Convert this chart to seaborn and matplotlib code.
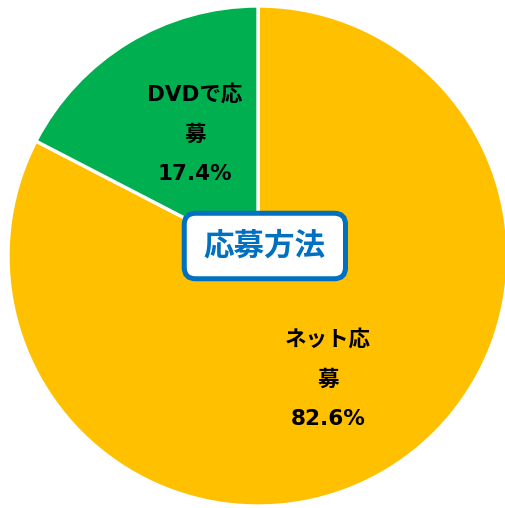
import matplotlib
matplotlib.use("Agg")
import matplotlib.pyplot as plt
from matplotlib.patches import FancyBboxPatch
import seaborn as sns

categories = ["ネット応募", "DVDで応募"]
label_lines = ["ネット応\n募", "DVDで応\n募"]
values = [82.6, 17.4]
colors = ["#FFC000", "#00B050"]
title = "応募方法"

sns.set_theme(style="white")
plt.rcParams['font.family'] = ['DejaVu Sans', 'Noto Sans CJK JP']

fig = plt.figure(figsize=(5.06, 5.08), dpi=100)
ax = fig.add_axes([0, 0, 1, 1])
ax.pie(values, colors=colors, startangle=90, counterclock=False,
       radius=1.0, center=(0, 0),
       wedgeprops=dict(edgecolor="white", linewidth=2.4))
ax.set_xlim(-1.032, 0.992)
ax.set_ylim(-1.008, 1.024)
ax.set_aspect("auto")
ax.axis("off")

label_pos = [(0.28, -0.49), (-0.252, 0.49)]
for (x, y), txt, v in zip(label_pos, label_lines, values):
    ax.text(x, y, f"{txt}\n{v:.1f}%", ha="center", va="center",
            fontsize=15.5, fontweight="bold", color="black", linespacing=2.2)

box = FancyBboxPatch((-0.295, -0.091), 0.645, 0.262,
                     boxstyle="round,pad=0,rounding_size=0.045",
                     facecolor="white", edgecolor="#0070C0", linewidth=3.6,
                     zorder=5)
ax.add_patch(box)
ax.text(0.026, 0.043, title, ha="center", va="center", fontsize=22,
        fontweight="bold", color="#0070C0", zorder=6,
        family=['Noto Sans CJK JP', 'DejaVu Sans'])

fig.savefig("out.png", dpi=100)
